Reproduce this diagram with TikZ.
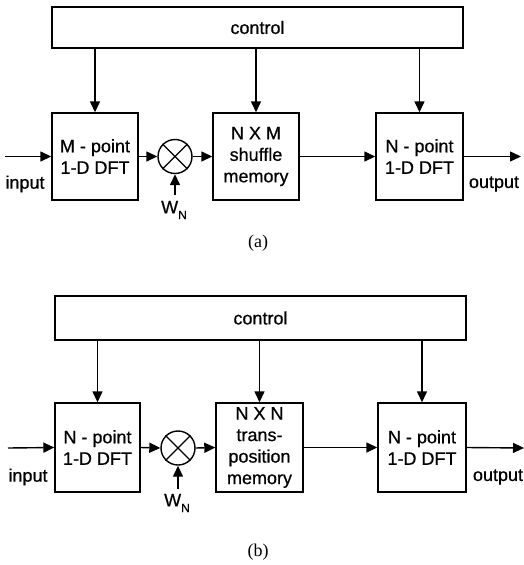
\documentclass[tikz,border=0pt]{standalone}
\usepackage{fontspec}
\setmainfont{Liberation Serif}
\setsansfont[FakeBold=0.6]{Liberation Sans}
\usetikzlibrary{arrows.meta}
\begin{document}
\begin{tikzpicture}[x=1pt,y=1pt,
  line width=1.4pt,
  blk/.style={draw, rectangle, inner sep=0pt, align=center,
    font=\sffamily\fontsize{18}{21.5}\selectfont},
  mult/.style={draw, circle, minimum size=34pt, inner sep=0pt},
  lbl/.style={inner sep=0pt, font=\sffamily\fontsize{18}{20}\selectfont},
  captxt/.style={inner sep=0pt, font=\rmfamily\fontsize{18}{20}\selectfont},
  arr/.style={-{Triangle[length=11pt,width=10pt]}},
]
\useasboundingbox (0,0) rectangle (523,-565);

% ---------- (a) ----------
\node[blk, minimum width=411pt, minimum height=41pt] (ctrlA) at (257.5,-27.5) {control};
\node[blk, minimum width=86pt, minimum height=87pt] (mA) at (95,-156.5) {M - point\\1-D DFT};
\node[mult] (xA) at (175,-156.5) {};
\draw (xA.north west) -- (xA.south east) (xA.north east) -- (xA.south west);
\node[blk, minimum width=86pt, minimum height=87pt] (memA) at (256,-156.5) {N X M\\shuffle\\memory};
\node[blk, minimum width=87pt, minimum height=87pt] (nA) at (419.5,-156.5) {N - point\\1-D DFT};
\coordinate (inA) at (5,-156.5);
\coordinate (outA) at (521,-156.5);
\node[lbl] (inlA) at (25,-184) {input};
\node[lbl] (outlA) at (494,-184) {output};
\node[lbl] (wA) at (174,-210) {W\raisebox{-0.6ex}{\fontsize{12}{12}\selectfont N}};
\node[captxt] (capA) at (258,-243) {(a)};

\draw[arr] (ctrlA.south -| mA.north) -- (mA.north);
\draw[arr] (ctrlA.south -| memA.north) -- (memA.north);
\draw[arr] (ctrlA.south -| nA.north) -- (nA.north);
\draw[arr] (inA) -- (mA.west);
\draw[arr] (mA.east) -- (xA.west);
\draw[arr] (xA.east) -- (memA.west);
\draw[arr] (memA.east) -- (nA.west);
\draw[arr] (nA.east) -- (outA);
\draw[arr] (xA.south |- 0,-195) -- (xA.south);

% ---------- (b) ----------
\node[blk, minimum width=411pt, minimum height=44pt] (ctrlB) at (260.5,-318) {control};
\node[blk, minimum width=85pt, minimum height=89pt] (mB) at (97.5,-447.5) {N - point\\1-D DFT};
\node[mult] (xB) at (178,-448) {};
\draw (xB.north west) -- (xB.south east) (xB.north east) -- (xB.south west);
\node[blk, minimum width=87pt, minimum height=89pt] (memB) at (259.5,-447.5) {N X N\\trans-\\position\\memory};
\node[blk, minimum width=88pt, minimum height=89pt] (nB) at (422,-447.5) {N - point\\1-D DFT};
\coordinate (inB) at (8,-448);
\coordinate (outB) at (524,-448);
\node[lbl] (inlB) at (28,-477) {input};
\node[lbl] (outlB) at (498,-477) {output};
\node[lbl] (wB) at (177,-503) {W\raisebox{-0.6ex}{\fontsize{12}{12}\selectfont N}};
\node[captxt] (capB) at (258,-552) {(b)};

\draw[arr] (ctrlB.south -| mB.north) -- (mB.north);
\draw[arr] (ctrlB.south -| memB.north) -- (memB.north);
\draw[arr] (ctrlB.south -| nB.north) -- (nB.north);
\draw[arr] (inB) -- (mB.west);
\draw[arr] (mB.east) -- (xB.west);
\draw[arr] (xB.east) -- (memB.west);
\draw[arr] (memB.east) -- (nB.west);
\draw[arr] (nB.east) -- (outB);
\draw[arr] (xB.south |- 0,-489) -- (xB.south);
\end{tikzpicture}
\end{document}
